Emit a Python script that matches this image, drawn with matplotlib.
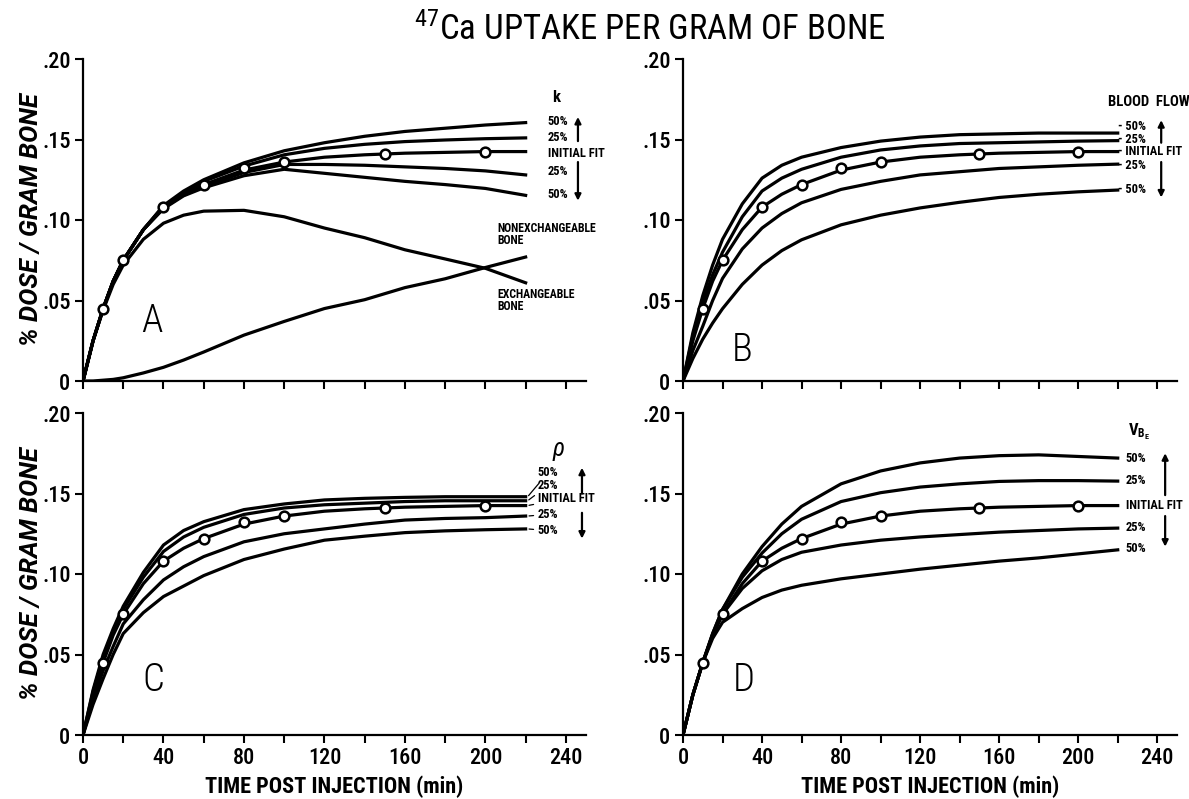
import numpy as np
import matplotlib
matplotlib.use('Agg')
import matplotlib.pyplot as plt
from matplotlib import font_manager

T = [0, 5, 10, 15, 20, 30, 40, 50, 60, 80, 100, 120, 140, 160, 180, 200, 220]

# measured points (open circles), same in all four panels
T_OBS = [10, 20, 40, 60, 80, 100, 150, 200]
Y_OBS = [0.045, 0.075, 0.108, 0.122, 0.132, 0.136, 0.141, 0.142]

# initial model fit
FIT = [0, .025, .045, .062, .075, .094, .108, .116, .122, .131, .136, .139, .1405, .1415, .142, .1425, .1425]

# panel A: k varied
K_UP50 = [0, .025, .045, .062, .075, .094, .109, .118, .125, .1355, .143, .148, .152, .155, .157, .159, .1605]
K_UP25 = [0, .025, .045, .062, .075, .094, .1085, .117, .124, .1335, .1405, .1445, .147, .1487, .1497, .1505, .151]
K_DN25 = [0, .025, .045, .062, .075, .094, .1075, .1155, .121, .1295, .1345, .1345, .134, .133, .132, .1305, .128]
K_DN50 = [0, .025, .045, .062, .075, .094, .107, .115, .120, .1275, .1315, .129, .1265, .124, .122, .1196, .1153]
EXCH = [0, .025, .044, .060, .072, .088, .098, .103, .1055, .106, .102, .095, .089, .0815, .0758, .070, .061]
NONEXCH = [0, 0, .0005, .001, .002, .005, .0085, .013, .018, .0285, .037, .045, .0505, .058, .0635, .0705, .077]

# panel B: blood flow varied
BF_UP50 = [0, .030, .053, .072, .088, .110, .126, .134, .139, .145, .149, .1515, .153, .1535, .154, .154, .154]
BF_UP25 = [0, .028, .049, .066, .080, .102, .118, .126, .1315, .139, .1435, .146, .1475, .148, .1485, .149, .1493]
BF_DN25 = [0, .019, .034, .050, .0637, .082, .095, .104, .1107, .119, .124, .128, .130, .132, .133, .134, .1347]
BF_DN50 = [0, .014, .026, .036, .0449, .060, .072, .081, .0877, .097, .103, .1075, .111, .114, .116, .1175, .1186]

# panel C: rho varied
RHO_UP50 = [0, .028, .050, .066, .080, .101, .118, .127, .1325, .140, .1435, .146, .147, .1476, .148, .148, .148]
RHO_UP25 = [0, .027, .048, .064, .078, .098, .114, .123, .129, .137, .141, .143, .144, .145, .1455, .1455, .1455]
RHO_DN25 = [0, .022, .040, .055, .069, .084, .0963, .1045, .1108, .120, .125, .128, .131, .1335, .1345, .135, .136]
RHO_DN50 = [0, .019, .035, .050, .063, .076, .086, .0925, .099, .109, .1155, .121, .1235, .1257, .1268, .1275, .128]

# panel D: V_BE varied
V_UP50 = [0, .025, .045, .063, .078, .100, .117, .131, .142, .156, .164, .169, .172, .1735, .174, .173, .172]
V_UP25 = [0, .025, .045, .063, .078, .098, .113, .125, .134, .145, .1505, .154, .156, .1575, .158, .158, .1577]
V_DN25 = [0, .025, .045, .062, .075, .091, .102, .109, .1135, .118, .121, .123, .1245, .126, .127, .128, .1285]
V_DN50 = [0, .025, .045, .060, .070, .0785, .0854, .090, .093, .097, .100, .103, .1055, .108, .110, .1125, .115]

SIDE_LABELS = ['50%', '25%', 'INITIAL FIT', '25%', '50%']
XTICKS = [0, 40, 80, 120, 160, 200, 240]
YTICKS = [0, .05, .10, .15, .20]
YTICK_LABELS = ['0', '.05', '.10', '.15', '.20']

names = {f.name for f in font_manager.fontManager.ttflist}


def pick(cands):
    return next((n for n in cands if n in names), 'DejaVu Sans')


NARROW = pick(['Roboto Condensed', 'Archivo Narrow', 'Barlow Semi Condensed', 'Liberation Sans Narrow'])
WIDE = pick(['Roboto', 'Liberation Sans', 'DejaVu Sans'])
plt.rcParams['font.family'] = [NARROW, 'DejaVu Sans']
plt.rcParams['mathtext.fontset'] = 'custom'
plt.rcParams['mathtext.rm'] = NARROW
plt.rcParams['mathtext.it'] = NARROW + ':italic'
plt.rcParams['mathtext.bf'] = NARROW + ':bold'

W, H = 1189, 799
fig = plt.figure(figsize=(W / 100, H / 100), dpi=100)


def px_axes(left, right, bottom, top):
    return fig.add_axes([left / W, 1 - bottom / H, (right - left) / W, (bottom - top) / H])


def style(ax, xlabel=False, ylabel=False):
    ax.set_xlim(0, 250)
    ax.set_ylim(0, 0.20)
    for s in ['top', 'right']:
        ax.spines[s].set_visible(False)
    for s in ['left', 'bottom']:
        ax.spines[s].set_linewidth(1.6)
    ax.set_xticks(XTICKS)
    ax.set_xticks([20, 60, 100, 140, 180, 220], minor=True)
    ax.set_yticks(YTICKS)
    ax.set_yticklabels(YTICK_LABELS)
    ax.tick_params(which='both', direction='out', length=6, width=1.5, labelsize=16, pad=3)
    for lab in ax.get_xticklabels() + ax.get_yticklabels():
        lab.set_fontweight('medium')
    if not xlabel:
        ax.set_xticklabels([])
    else:
        ax.set_xlabel('TIME POST INJECTION (min)', fontsize=16, fontweight='semibold', labelpad=4)
    if ylabel:
        ax.set_ylabel('% DOSE / GRAM BONE', fontsize=18.5, fontweight='bold', fontstyle='italic',
                      family=WIDE)
        ax.yaxis.set_label_coords(-40 / 503, 0.5)


def curves(ax, series):
    for y in series:
        ax.plot(T, y, color='black', lw=2.3, zorder=2)
    ax.plot(T, FIT, color='black', lw=2.3, zorder=3)
    ax.plot(T_OBS, Y_OBS, 'o', ms=7, mfc='white', mec='black', mew=1.8, zorder=4)


def side_labels(ax, x, ys, prefix=''):
    for lab, y in zip(SIDE_LABELS, ys):
        ax.text(x, y, prefix + lab, fontsize=9, fontweight='bold', va='center', ha='left', clip_on=False)


def leader_labels(ax, x, ys, ends):
    for lab, y, e in zip(SIDE_LABELS, ys, ends):
        ax.annotate(lab, xy=(221, e), xytext=(x, y), fontsize=9, fontweight='bold', va='center',
                    ha='left', annotation_clip=False,
                    arrowprops=dict(arrowstyle='-', lw=0.9, color='black', shrinkA=1, shrinkB=1))


def arrows(ax, x, up, down):
    kw = dict(arrowstyle='-|>', lw=1.6, color='black', mutation_scale=9, shrinkA=0, shrinkB=0)
    ax.annotate('', xy=(x, up[1]), xytext=(x, up[0]), arrowprops=kw, annotation_clip=False)
    ax.annotate('', xy=(x, down[1]), xytext=(x, down[0]), arrowprops=kw, annotation_clip=False)


def letter(ax, s, x, y):
    ax.text(x, y, s, fontsize=28, fontweight='light', ha='center', va='center')


# A
axA = px_axes(83, 586, 381, 59)
style(axA, ylabel=True)
curves(axA, [K_UP50, K_UP25, K_DN25, K_DN50, EXCH, NONEXCH])
side_labels(axA, 231, [.161, .151, .141, .130, .116])
arrows(axA, 246, (.149, .164), (.136, .112))
axA.text(233, .173, 'k', fontsize=12, fontweight='bold')
axA.text(206, .091, 'NONEXCHANGEABLE\nBONE', fontsize=8.5, fontweight='bold', va='center',
         linespacing=0.95, clip_on=False)
axA.text(206, .050, 'EXCHANGEABLE\nBONE', fontsize=8.5, fontweight='bold', va='center',
         linespacing=0.95, clip_on=False)
letter(axA, 'A', 34, .037)

# B
axB = px_axes(683, 1177, 381, 59)
style(axB)
curves(axB, [BF_UP50, BF_UP25, BF_DN25, BF_DN50])
side_labels(axB, 220, [.158, .150, .1425, .134, .119], prefix='- ')
arrows(axB, 242, (.148, .162), (.136, .114))
axB.text(215, .171, 'BLOOD  FLOW', fontsize=10.5, fontweight='bold')
letter(axB, 'B', 30, .019)

# C
axC = px_axes(83, 586, 735, 413)
style(axC, xlabel=True, ylabel=True)
curves(axC, [RHO_UP50, RHO_UP25, RHO_DN25, RHO_DN50])
leader_labels(axC, 226, [.163, .155, .147, .137, .127],
              [RHO_UP50[-1], RHO_UP25[-1], FIT[-1], RHO_DN25[-1], RHO_DN50[-1]])
arrows(axC, 248, (.150, .166), (.138, .122))
axC.text(233, .173, r'$\rho$', fontsize=18)
letter(axC, 'C', 35, .034)

# D
axD = px_axes(683, 1177, 735, 413)
style(axD, xlabel=True)
curves(axD, [V_UP50, V_UP25, V_DN25, V_DN50])
side_labels(axD, 224, [.172, .158, .1425, .129, .116])
arrows(axD, 244, (.149, .175), (.136, .117))
axD.text(225, .186, r'V$_{\mathregular{B_E}}$', fontsize=12, fontweight='bold')
letter(axD, 'D', 31, .034)

fig.text(650 / W, 1 - 30 / H, r'$^{47}$Ca UPTAKE PER GRAM OF BONE', ha='center', va='center',
         fontsize=25, fontweight='normal')

fig.savefig('out.png', dpi=100)
